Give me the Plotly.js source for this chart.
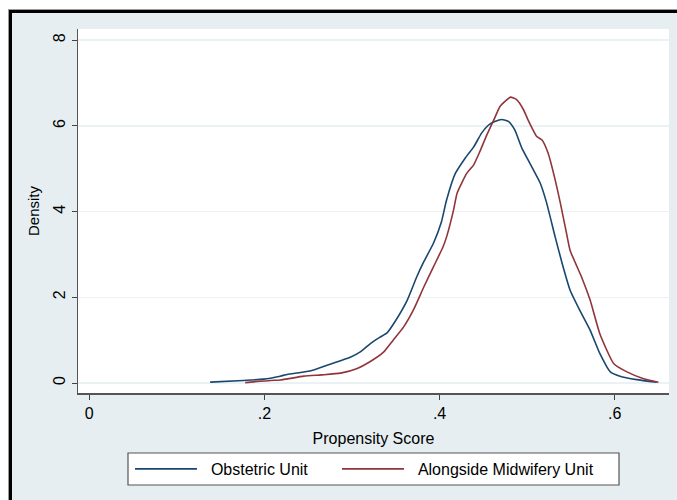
<!DOCTYPE html>
<html>
<head>
<meta charset="utf-8">
<script src="https://cdn.plot.ly/plotly-3.0.1.min.js"></script>
<style>
  html, body { margin: 0; padding: 0; background: #ffffff; overflow: hidden; }
  #frame { position: absolute; left: 9px; top: 10px; width: 700px; height: 520px;
           background: #e6eef1; border-top: 3px solid #000; border-left: 3px solid #000;
           box-shadow: -1px -1px 0 #9a9a9a; }
  #chart { position: absolute; left: 0; top: 0; width: 677px; height: 500px; }
</style>
</head>
<body>
<div id="frame"></div>
<div id="chart"></div>
<script>
// Obstetric Unit density
const obstetricX = [0.138, 0.176, 0.199, 0.218, 0.226, 0.252, 0.275, 0.298, 0.309, 0.321, 0.332, 0.340, 0.349, 0.363, 0.374, 0.382, 0.393, 0.402, 0.408, 0.418, 0.429, 0.439, 0.448, 0.456, 0.463, 0.471, 0.479, 0.486, 0.494, 0.503, 0.515, 0.522, 0.532, 0.540, 0.549, 0.560, 0.572, 0.583, 0.595, 0.606, 0.625, 0.648];
const obstetricY = [0.02, 0.06, 0.09, 0.16, 0.20, 0.28, 0.44, 0.60, 0.72, 0.92, 1.07, 1.17, 1.43, 1.93, 2.48, 2.83, 3.26, 3.75, 4.27, 4.89, 5.24, 5.51, 5.83, 6.02, 6.10, 6.15, 6.10, 5.90, 5.48, 5.13, 4.66, 4.22, 3.41, 2.79, 2.17, 1.70, 1.23, 0.69, 0.26, 0.16, 0.08, 0.02];
// Alongside Midwifery Unit density
const midwiferyX = [0.178, 0.207, 0.218, 0.245, 0.265, 0.287, 0.306, 0.320, 0.336, 0.347, 0.359, 0.370, 0.382, 0.393, 0.404, 0.408, 0.416, 0.420, 0.431, 0.439, 0.446, 0.454, 0.462, 0.469, 0.477, 0.481, 0.488, 0.496, 0.501, 0.511, 0.517, 0.524, 0.532, 0.538, 0.545, 0.549, 0.562, 0.572, 0.583, 0.599, 0.614, 0.633, 0.650];
const midwiferyY = [0.01, 0.06, 0.07, 0.16, 0.19, 0.23, 0.34, 0.49, 0.72, 1.00, 1.31, 1.70, 2.24, 2.71, 3.18, 3.41, 4.04, 4.43, 4.89, 5.09, 5.40, 5.79, 6.14, 6.45, 6.61, 6.67, 6.61, 6.37, 6.14, 5.75, 5.67, 5.36, 4.74, 4.19, 3.49, 3.10, 2.48, 1.93, 1.15, 0.45, 0.26, 0.10, 0.02];

const seriesNames = ["Obstetric Unit", "Alongside Midwifery Unit"];
const xTickVals = [0, 0.2, 0.4, 0.6];
const xTickText = ["0", ".2", ".4", ".6"];
const yTickVals = [0, 2, 4, 6, 8];
const yTickText = ["0", "2", "4", "6", "8"];

const FONT = "Liberation Sans, Arial, Helvetica, sans-serif";
const PAD = "\u00a0\u00a0";

const traces = [
  { x: obstetricX, y: obstetricY, name: PAD + seriesNames[0], type: "scatter", mode: "lines",
    legend: "legend",
    line: { color: "#1a476f", width: 1.6, shape: "spline", smoothing: 0.5 } },
  { x: midwiferyX, y: midwiferyY, name: PAD + seriesNames[1], type: "scatter", mode: "lines",
    legend: "legend2",
    line: { color: "#90353b", width: 1.6, shape: "spline", smoothing: 0.5 } }
];

function legendAt(px) {
  return {
    orientation: "h",
    x: (px - 78) / 591, xanchor: "left",
    y: (393 - 469) / 364, yanchor: "middle",
    bgcolor: "rgba(0,0,0,0)", borderwidth: 0,
    itemwidth: 62,
    font: { family: FONT, size: 16, color: "#000" }
  };
}

const layout = {
  width: 677, height: 500,
  margin: { l: 78, r: 8, t: 29, b: 107 },
  paper_bgcolor: "rgba(0,0,0,0)",
  plot_bgcolor: "#ffffff",
  font: { family: FONT, size: 16, color: "#000" },
  showlegend: true,
  xaxis: {
    range: [-0.0129, 0.662],
    tickvals: xTickVals, ticktext: xTickText,
    ticks: "outside", ticklen: 5, tickcolor: "#444", tickwidth: 1,
    showline: true, linecolor: "#555", linewidth: 1.5,
    showgrid: false, zeroline: false,
    tickfont: { family: FONT, size: 16, color: "#000" },
    title: { text: "Propensity Score", font: { family: FONT, size: 16, color: "#000" }, standoff: 12 }
  },
  yaxis: {
    range: [-0.233, 8.26],
    tickvals: yTickVals, ticktext: yTickText,
    tickangle: -90,
    ticks: "outside", ticklen: 5, tickcolor: "#444", tickwidth: 1,
    showline: true, linecolor: "#555", linewidth: 1.5,
    showgrid: true, gridcolor: "#eaf2f3", gridwidth: 1.5,
    zeroline: false,
    tickfont: { family: FONT, size: 16, color: "#000" },
    title: { text: "Density", font: { family: FONT, size: 15, color: "#000" }, standoff: 8 }
  },
  shapes: [
    { type: "rect", xref: "paper", yref: "paper",
      x0: (128 - 78) / 591, x1: (619 - 78) / 591,
      y0: (393 - 485) / 364, y1: (393 - 453) / 364,
      fillcolor: "#ffffff", line: { color: "#555", width: 1.2 }, layer: "above" }
  ],
  legend: legendAt(130),
  legend2: legendAt(337)
};

Plotly.newPlot("chart", traces, layout, { displayModeBar: false, staticPlot: true });
</script>
</body>
</html>
